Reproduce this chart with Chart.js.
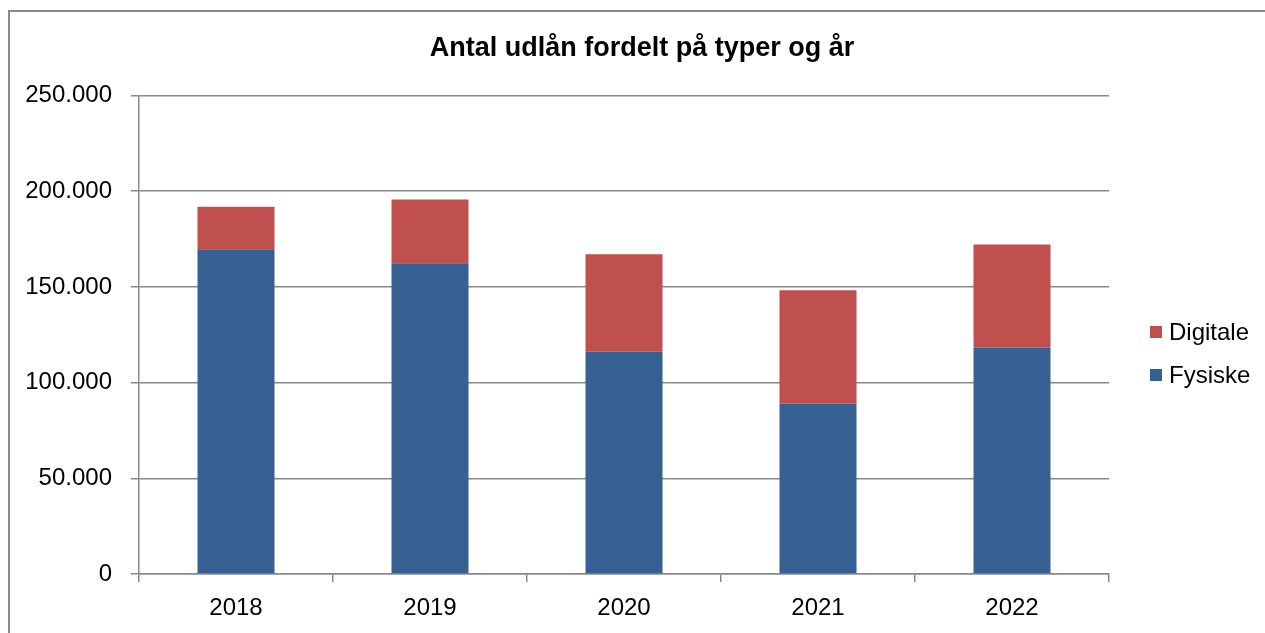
<!DOCTYPE html>
<html>
<head>
<meta charset="utf-8">
<script src="https://cdn.jsdelivr.net/npm/chart.js@4.4.1/dist/chart.umd.min.js"></script>
<style>
    html, body { margin: 0; padding: 0; background: #fff; overflow: hidden; }
    #frame {
        position: absolute; left: 8px; top: 10px;
        width: 1264px; height: 628px;
        border: 2px solid #898989;
    }
    #frame canvas { display: block; }
    #title {
        position: absolute; left: 0; top: 31px; width: 1284px;
        text-align: center; line-height: 32px;
        font-family: "Liberation Sans", Arial, sans-serif; font-size: 27px; font-weight: bold; color: #000;
    }
    #legend {
        position: absolute; left: 1150px; top: 311px;
        margin: 0; padding: 0; list-style: none;
        font-family: "Liberation Sans", Arial, sans-serif; font-size: 24px; color: #000;
    }
    #legend li { display: flex; align-items: center; height: 42.5px; }
    #legend span.box { display: inline-block; width: 12px; height: 12px; margin-right: 7px; }
</style>
</head>
<body>
<div id="frame"><canvas id="barChart" width="1264" height="628"></canvas></div>
<div id="title">Antal udlån fordelt på typer og år</div>
<ul id="legend"></ul>
<script>
// data
var years = ['2018', '2019', '2020', '2021', '2022'];
var fysiske = [169700, 162300, 116100, 89100, 118400];
var digitale = [22200, 33400, 50900, 59100, 53800];
var yTicks = [0, 50000, 100000, 150000, 200000, 250000];

function formatDk(value) {
    // thousands separator is a dot
    return String(value).replace(/\B(?=(\d{3})+(?!\d))/g, '.');
}

// html legend, Digitale on top like the original
var htmlLegend = {
    id: 'htmlLegend',
    afterUpdate: function (chart) {
        var ul = document.getElementById('legend');
        ul.innerHTML = '';
        var items = chart.options.plugins.legend.labels.generateLabels(chart).reverse();
        items.forEach(function (item) {
            var li = document.createElement('li');
            var box = document.createElement('span');
            box.className = 'box';
            box.style.background = item.fillStyle;
            li.appendChild(box);
            li.appendChild(document.createTextNode(item.text));
            ul.appendChild(li);
        });
    }
};

var ctx = document.getElementById('barChart').getContext('2d');
new Chart(ctx, {
    type: 'bar',
    data: {
        labels: years,
        datasets: [{
            label: 'Fysiske',
            data: fysiske,
            backgroundColor: '#376092'
        }, {
            label: 'Digitale',
            data: digitale,
            backgroundColor: '#C0504D'
        }]
    },
    options: {
        responsive: false,
        animation: false,
        layout: {
            padding: { left: 15, right: 165, top: 83.5, bottom: 17 }
        },
        plugins: {
            legend: { display: false },
            tooltip: { enabled: false },
            title: { display: false }
        },
        datasets: {
            bar: { barPercentage: 0.397, categoryPercentage: 1 }
        },
        scales: {
            x: {
                stacked: true,
                afterFit: function (scale) { scale.height = 49; },
                grid: { display: true, drawOnChartArea: false, drawTicks: true, tickLength: 8, offset: true, color: '#898989', lineWidth: 1.5 },
                border: { display: true, color: '#898989', width: 1.5 },
                ticks: {
                    color: '#000',
                    padding: 12,
                    font: { family: '"Liberation Sans", Arial, sans-serif', size: 24 }
                }
            },
            y: {
                stacked: true,
                min: 0,
                max: 250000,
                afterFit: function (scale) { scale.width = 114; },
                afterBuildTicks: function (scale) {
                    scale.ticks = yTicks.map(function (v) { return { value: v }; });
                },
                grid: { color: '#898989', lineWidth: 1.5, tickLength: 8 },
                border: { display: true, color: '#898989', width: 1.5 },
                ticks: {
                    color: '#000',
                    padding: 19,
                    font: { family: '"Liberation Sans", Arial, sans-serif', size: 24 },
                    callback: function (value) { return formatDk(value); }
                }
            }
        }
    },
    plugins: [htmlLegend]
});
</script>
</body>
</html>
